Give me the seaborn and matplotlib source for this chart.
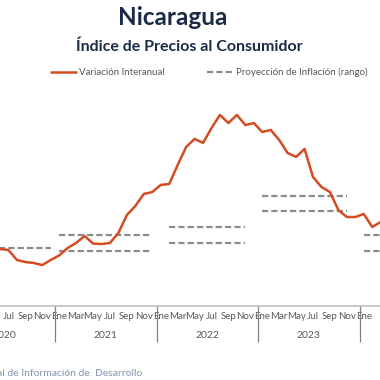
import matplotlib
matplotlib.use("Agg")
import matplotlib.pyplot as plt
import matplotlib.lines as mlines
import numpy as np
import pandas as pd
import seaborn as sns

# Monthly year-on-year CPI variation (%), Jun 2020 - Mar 2024
first_month = "2020-06"
variacion = [
    3.63, 3.56, 2.93, 2.80, 2.74, 2.61, 2.93,
    3.22, 3.69, 4.01, 4.45, 3.97, 3.94, 4.01, 4.64, 5.78, 6.35, 7.11, 7.23,
    7.68, 7.74, 8.94, 10.08, 10.59, 10.34, 11.28, 12.11, 11.60, 12.11, 11.47, 11.60,
    11.03, 11.16, 10.53, 9.70, 9.45, 9.96, 8.18, 7.55, 7.23, 6.09, 5.65, 5.65,
    5.84, 5.02, 5.34,
]

# Inflation projection ranges per year
proj_start = ["2020-01", "2021-01", "2022-02", "2023-01", "2024-01"]
proj_end = ["2020-12", "2021-12", "2022-11", "2023-11", "2024-06"]
proj_high = [3.7, 4.5, 5.0, 7.0, 4.5]
proj_low = [None, 3.5, 4.0, 6.0, 3.5]

month_names = ["Ene", "Feb", "Mar", "Abr", "May", "Jun",
               "Jul", "Ago", "Sep", "Oct", "Nov", "Dic"]
years = [2020, 2021, 2022, 2023, 2024]

RED = "#D54B22"
GREY = "#8C8C8C"
NAVY = "#1B2A47"
TEXT = "#595959"


def month_pos(date):
    date = pd.Timestamp(date)
    return (date.year - years[0]) * 12 + date.month - 1


dates = pd.date_range(first_month, periods=len(variacion), freq="MS")
df = pd.DataFrame({"pos": [month_pos(d) for d in dates], "valor": variacion})

sns.set_theme(style="white")
plt.rcParams["font.family"] = ["Lato", "DejaVu Sans"]

fig = plt.figure(figsize=(3.8, 3.8), dpi=100)
ax = fig.add_axes([0, 0.194, 1, 0.543])

for start, end, hi, lo in zip(proj_start, proj_end, proj_high, proj_low):
    seg = pd.DataFrame({"pos": [month_pos(start), month_pos(end)]})
    for level in (hi, lo):
        if level is None:
            continue
        seg["valor"] = level
        sns.lineplot(data=seg, x="pos", y="valor", color=GREY, lw=1.6,
                     ax=ax, linestyle=(0, (2.8, 1.4)))

sns.lineplot(data=df, x="pos", y="valor", color=RED, lw=1.8, ax=ax)

x_lo, x_hi = 5.0, 5.0 + 380 / 8.46

for side in ("top", "right", "left"):
    ax.spines[side].set_visible(False)
ax.spines["bottom"].set_color("#BFBFBF")
ax.spines["bottom"].set_linewidth(1.2)
ax.set_yticks([])
ax.set_xlabel("")
ax.set_ylabel("")

tick_pos = [month_pos(f"{y}-{m:02d}") for y in years for m in range(1, 13, 2)]
tick_lab = [month_names[m - 1] for y in years for m in range(1, 13, 2)]
ax.set_xticks(tick_pos)
ax.set_xticklabels(tick_lab, fontsize=7, color=TEXT)
ax.tick_params(axis="x", length=0, pad=4)

for y in years:
    center = month_pos(f"{y}-01") + 5.5
    ax.annotate(str(y), xy=(center, 0), xycoords="data", xytext=(0, -21),
                textcoords="offset points", ha="center", va="center",
                fontsize=7.5, color=TEXT, annotation_clip=False)
    ax.vlines(month_pos(f"{y}-01") - 0.5, -2.25, 0, color="#808080", lw=0.9,
              clip_on=False)

ax.set_xlim(x_lo, x_hi)
ax.set_ylim(0, 13.06)

fig.text(0.455, 0.953, "Nicaragua", ha="center", va="center",
         fontsize=17.5, fontweight="bold", color=NAVY)
fig.text(0.497, 0.876, "Índice de Precios al Consumidor", ha="center",
         va="center", fontsize=11.5, fontweight="bold", color=NAVY)

h_red = mlines.Line2D([], [], color=RED, lw=1.8)
h_grey = mlines.Line2D([], [], color=GREY, lw=1.6, linestyle=(0, (2.8, 1.4)))
fig.legend([h_red, h_grey], ["Variación Interanual", "Proyección de Inflación (rango)"],
           loc="center", bbox_to_anchor=(0.55, 0.81), ncol=2, frameon=False,
           fontsize=7, labelcolor=TEXT, handlelength=2.6, handletextpad=0.3,
           columnspacing=4.4)

fig.text(-0.008, 0.018, "al de Información de  Desarrollo", ha="left",
         va="center", fontsize=7.5, color="#8497B0")

fig.savefig("out.png", dpi=100)
